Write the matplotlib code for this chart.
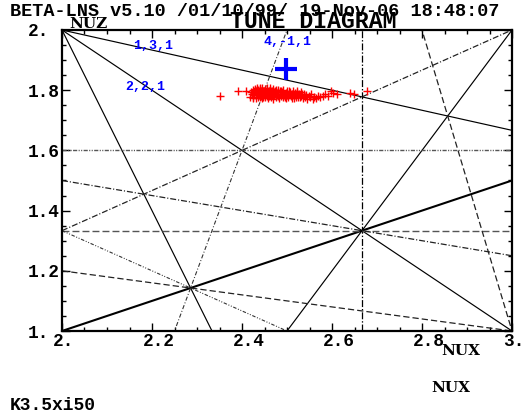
import matplotlib
matplotlib.use("Agg")
import matplotlib.pyplot as plt
from matplotlib.ticker import MultipleLocator, FixedLocator
from matplotlib.transforms import ScaledTranslation
import numpy as np

# MATPLOTLIB PARAMS
plt.rcParams['lines.scale_dashes'] = False
plt.rcParams['font.family'] = 'Liberation Mono'
plt.rcParams['font.weight'] = 'bold'

# TUNE DATA ( NUX , NUZ )
tune_x = [2.352, 2.390, 2.408, 2.417, 2.420, 2.422, 2.424, 2.425, 2.427, 2.428,
          2.430, 2.431, 2.432, 2.433, 2.434, 2.435, 2.436, 2.437, 2.438, 2.439,
          2.440, 2.441, 2.442, 2.443, 2.444, 2.445, 2.446, 2.447, 2.448, 2.449,
          2.450, 2.451, 2.452, 2.453, 2.454, 2.455, 2.456, 2.457, 2.458, 2.459,
          2.460, 2.461, 2.462, 2.463, 2.464, 2.465, 2.466, 2.467, 2.468, 2.469,
          2.470, 2.472, 2.473, 2.475, 2.476, 2.478, 2.479, 2.481, 2.482, 2.484,
          2.485, 2.487, 2.489, 2.490, 2.492, 2.494, 2.496, 2.497, 2.499, 2.501,
          2.503, 2.505, 2.507, 2.509, 2.511, 2.513, 2.515, 2.517, 2.519, 2.521,
          2.523, 2.525, 2.527, 2.530, 2.532, 2.535, 2.537, 2.540, 2.543, 2.545,
          2.548, 2.551, 2.554, 2.557, 2.561, 2.565, 2.569, 2.574, 2.579, 2.584,
          2.590, 2.597, 2.603, 2.612, 2.641, 2.649, 2.677, 2.433, 2.446, 2.462,
          2.424, 2.429, 2.436, 2.441, 2.447, 2.452, 2.457, 2.463, 2.468, 2.474,
          2.479, 2.486, 2.491, 2.498, 2.504, 2.510, 2.516, 2.522, 2.528, 2.534]
tune_z = [1.781, 1.797, 1.797, 1.777, 1.795, 1.786, 1.800, 1.779, 1.791, 1.805,
          1.783, 1.797, 1.774, 1.808, 1.789, 1.779, 1.801, 1.793, 1.785, 1.776,
          1.804, 1.790, 1.782, 1.797, 1.773, 1.808, 1.787, 1.780, 1.799, 1.792,
          1.784, 1.803, 1.776, 1.795, 1.788, 1.781, 1.806, 1.791, 1.774, 1.798,
          1.786, 1.780, 1.801, 1.793, 1.777, 1.789, 1.796, 1.783, 1.805, 1.772,
          1.791, 1.784, 1.798, 1.778, 1.802, 1.787, 1.794, 1.781, 1.775, 1.797,
          1.788, 1.782, 1.793, 1.776, 1.800, 1.785, 1.779, 1.791, 1.796, 1.783,
          1.777, 1.789, 1.795, 1.781, 1.786, 1.799, 1.774, 1.790, 1.783, 1.779,
          1.792, 1.776, 1.786, 1.781, 1.795, 1.774, 1.788, 1.779, 1.784, 1.772,
          1.781, 1.776, 1.787, 1.771, 1.779, 1.774, 1.782, 1.776, 1.780, 1.788,
          1.781, 1.797, 1.790, 1.787, 1.791, 1.787, 1.797, 1.796, 1.796, 1.790,
          1.773, 1.800, 1.787, 1.807, 1.776, 1.799, 1.783, 1.807, 1.792, 1.790,
          1.800, 1.797, 1.786, 1.773, 1.797, 1.775, 1.785, 1.798, 1.777, 1.789]

# WORKING POINT
wp_x = [2.497]
wp_z = [1.869]

# RESONANCES  m*NUX + n*NUZ = p
res_m = [1, 1, 3, 2, 1, 3, 0, 0, 2, 1, 2, 1, 4, 5]
res_n = [3, 1, 1, -1, -2, 0, 3, 5, -3, 4, 3, 5, -1, 1]
res_p = [8, 4, 8, 4, 0, 8, 4, 8, 0, 8, 8, 8, 8, 16]
res_style = ["solid", "solid", "solid", "solid", "thick", "longdashdot", "dash_gray",
             "dashdotdot_gray", "dashdot", "dashdot", "dotdot", "dashed", "fine_dashdot", "dashed"]

# LINE STYLES ( dashes in points )
styles = {"solid":          dict(color="k", lw=0.85, ls="-"),
          "thick":          dict(color="k", lw=1.5, ls="-"),
          "longdashdot":    dict(color="k", lw=0.9, ls=(0, (5, 1.4, 1, 1.4))),
          "dash_gray":      dict(color="#555555", lw=1.0, ls=(0, (5, 2.2))),
          "dashdotdot_gray":dict(color="#555555", lw=1.0, ls=(0, (3, 1, 0.8, 1, 0.8, 1))),
          "dashdot":        dict(color="#222222", lw=0.9, ls=(0, (4.3, 1.4, 0.8, 1.4))),
          "dotdot":         dict(color="#333333", lw=0.8, ls=(0, (2.5, 1.2, 0.7, 1.2, 0.7, 1.2))),
          "dashed":         dict(color="#222222", lw=0.9, ls=(0, (4.5, 2.2))),
          "fine_dashdot":   dict(color="#333333", lw=0.8, ls=(0, (3, 1.4, 0.7, 1.4)))}

# RESONANCE LABELS
lab_txt = ["1,3,1", "4,-1,1", "2,2,1"]
lab_x = [2.158, 2.448, 2.140]
lab_z = [1.947, 1.960, 1.811]

xticks = [2.0, 2.2, 2.4, 2.6, 2.8, 3.0]
xticklabels = ["2.", "2.2", "2.4", "2.6", "2.8", "3."]
yticks = [1.0, 1.2, 1.4, 1.6, 1.8, 2.0]
yticklabels = ["1.", "1.2", "1.4", "1.6", "1.8", "2."]


fig = plt.figure(figsize=(5.26, 4.18), dpi=100)
ax = fig.add_axes([62/526, 87/418, 450/526, 301/418])

xx = np.array([2.0, 3.0])
for m, n, p, st in zip(res_m, res_n, res_p, res_style):
    kw = styles[st]
    if n == 0:
        ax.axvline(p / m, **kw)
    else:
        ax.plot(xx, (p - m * xx) / n, **kw)

ax.plot(tune_x, tune_z, linestyle="none", marker="+", color="red", ms=5.2, mew=1.0)
ax.plot(wp_x, wp_z, linestyle="none", marker="+", color="blue", ms=16, mew=3.0)

for t, x, z in zip(lab_txt, lab_x, lab_z):
    ax.text(x, z, t, color="blue", fontsize=9.5, fontweight="bold", ha="left", va="center")

ax.set_xlim(2.0, 3.0)
ax.set_ylim(1.0, 2.0)

# TICKS
ax.xaxis.set_major_locator(FixedLocator(xticks))
ax.yaxis.set_major_locator(FixedLocator(yticks))
ax.xaxis.set_minor_locator(MultipleLocator(0.05))
ax.yaxis.set_minor_locator(MultipleLocator(0.05))
ax.set_xticklabels(xticklabels, fontsize=12.8, fontweight="bold", ha="left")
ax.set_yticklabels(yticklabels, fontsize=12.8, fontweight="bold", ha="left")
ax.tick_params(which="both", direction="in", top=True, right=True, width=1.0)
ax.tick_params(which="major", length=5.8)
ax.tick_params(which="minor", length=2.9)
ax.tick_params(axis="x", pad=1.5)
ax.tick_params(axis="y", pad=24.5)
for lab in ax.get_xticklabels():
    lab.set_transform(lab.get_transform() + ScaledTranslation(-9/100., 0, fig.dpi_scale_trans))
for sp in ax.spines.values():
    sp.set_linewidth(1.6)

# TEXTS
fig.text(10/526, 1 - 12/418, "BETA-LNS v5.10 /01/10/99/ 19-Nov-06 18:48:07",
         fontsize=13.3, fontweight="bold", ha="left", va="center")
fig.text(313/526, 1 - 21/418, "TUNE DIAGRAM", fontsize=16.7, fontweight="bold",
         ha="center", va="center")
fig.text(88/526, 1 - 24/418, "NUZ", family="DejaVu Serif", fontsize=11,
         fontweight="heavy", ha="center", va="center")
fig.text(461/526, 1 - 351/418, "NUX", family="DejaVu Serif", fontsize=11,
         fontweight="heavy", ha="center", va="center")
fig.text(451/526, 1 - 388/418, "NUX", family="DejaVu Serif", fontsize=11,
         fontweight="heavy", ha="center", va="center")
fig.text(10/526, 1 - 406/418, "K3.5xi50", fontsize=13, fontweight="bold",
         ha="left", va="center")

plt.savefig("out.png", dpi=100)
